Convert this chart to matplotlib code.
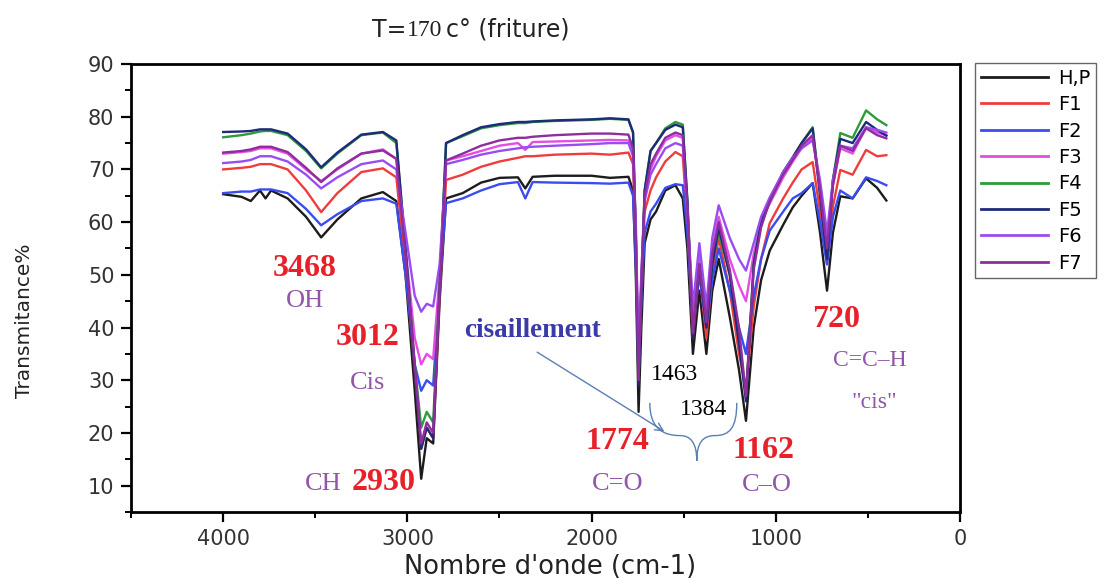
import numpy as np
import matplotlib.pyplot as plt
from matplotlib.path import Path
from matplotlib.patches import PathPatch
from matplotlib.ticker import MultipleLocator

# wavenumbers (cm-1)
wn = [4000, 3900, 3850, 3800, 3770, 3740, 3650, 3550, 3468, 3380,
      3250, 3133, 3060, 3010, 2960, 2925, 2895, 2860, 2825, 2790,
      2700, 2600, 2500, 2400, 2360, 2320, 2200, 2000, 1900, 1800,
      1775, 1760, 1745, 1730, 1712, 1680, 1650, 1600, 1545, 1505,
      1480, 1450, 1415, 1377, 1345, 1310, 1250, 1200, 1162, 1120,
      1080, 1033, 960, 908, 860, 800, 760, 722, 690, 650,
      583, 510, 450, 400]

hp = [65.3, 64.8, 64.0, 66.0, 64.5, 66.0, 64.5, 61.0, 57.1, 60.5,
      64.5, 65.7, 64.0, 50.0, 28.0, 11.3, 19.0, 18.0, 45.0, 64.5,
      65.5, 67.5, 68.4, 68.5, 66.4, 68.6, 68.8, 68.8, 68.4, 68.6,
      66.0, 50.0, 24.0, 40.0, 56.0, 60.5, 62.0, 66.0, 67.0, 64.5,
      55.0, 35.0, 47.0, 35.0, 47.0, 53.0, 42.0, 32.0, 22.3, 40.0,
      49.0, 54.6, 59.5, 62.8, 65.0, 67.4, 58.0, 47.0, 58.0, 64.9,
      64.5, 68.3, 66.5, 64.1]
f1 = [70.0, 70.3, 70.5, 71.0, 71.0, 71.0, 70.0, 66.0, 61.9, 65.5,
      69.5, 70.2, 68.5, 52.0, 32.0, 17.0, 21.0, 19.0, 46.0, 68.0,
      69.0, 70.5, 71.5, 72.2, 72.5, 72.5, 72.8, 73.0, 72.8, 73.2,
      71.0, 55.0, 32.0, 46.0, 62.0, 66.0, 68.5, 71.5, 73.3, 72.5,
      60.0, 38.0, 51.0, 38.0, 50.0, 57.0, 47.0, 35.0, 28.6, 44.0,
      53.0, 59.8, 64.5, 67.5, 70.0, 71.4, 62.0, 52.0, 63.0, 69.9,
      69.0, 73.7, 72.5, 72.7]
f2 = [65.5, 65.8, 65.8, 66.2, 66.2, 66.2, 65.5, 62.5, 59.4, 61.5,
      64.0, 64.5, 63.5, 50.0, 33.0, 28.0, 30.0, 29.0, 48.0, 63.6,
      64.5, 66.0, 67.2, 67.6, 64.5, 67.6, 67.5, 67.4, 67.3, 67.5,
      65.0, 52.0, 31.0, 45.0, 58.0, 62.0, 63.5, 66.5, 67.2, 67.0,
      58.0, 40.0, 50.0, 40.0, 49.0, 55.0, 47.0, 40.0, 35.0, 46.0,
      53.0, 58.4, 62.0, 64.5, 65.5, 67.4, 60.0, 52.0, 61.0, 66.0,
      64.5, 68.5, 67.8, 67.0]
f3 = [73.0, 73.3, 73.5, 74.0, 74.0, 74.0, 73.0, 70.0, 67.8, 70.0,
      73.0, 73.8, 72.0, 55.0, 38.0, 33.0, 35.0, 34.0, 50.0, 71.7,
      72.5, 73.5, 74.5, 75.0, 73.7, 75.2, 75.3, 75.5, 75.6, 75.5,
      73.0, 58.0, 34.0, 50.0, 65.0, 70.0, 72.5, 75.5, 76.5, 76.0,
      62.0, 42.0, 54.0, 42.0, 55.0, 61.0, 53.0, 48.0, 45.0, 54.0,
      60.0, 63.5, 68.5, 71.5, 74.0, 76.0, 67.0, 56.0, 67.0, 74.0,
      73.0, 78.0, 77.0, 76.5]
f4 = [76.1, 76.5, 76.8, 77.2, 77.3, 77.3, 76.5, 73.5, 70.2, 73.0,
      76.5, 77.0, 75.0, 55.0, 33.0, 21.0, 24.0, 22.0, 48.0, 75.0,
      76.3, 77.8, 78.4, 78.8, 78.8, 79.0, 79.2, 79.4, 79.6, 79.4,
      77.0, 58.0, 30.0, 48.0, 66.0, 73.5, 75.0, 77.8, 79.0, 78.5,
      64.0, 40.0, 52.0, 41.0, 52.0, 58.0, 50.0, 38.0, 27.0, 52.0,
      60.0, 64.0, 69.5, 72.3, 75.0, 78.0, 66.0, 54.0, 68.0, 76.9,
      76.0, 81.2, 79.5, 78.4]
f5 = [77.1, 77.2, 77.3, 77.6, 77.6, 77.6, 76.8, 73.8, 70.4, 73.2,
      76.6, 77.1, 75.5, 55.0, 32.0, 17.0, 21.0, 19.0, 47.0, 75.0,
      76.5, 78.0, 78.6, 79.0, 79.0, 79.1, 79.3, 79.5, 79.7, 79.5,
      77.0, 57.0, 29.0, 47.0, 66.0, 73.5, 75.0, 77.5, 78.5, 78.0,
      64.0, 38.0, 52.0, 40.0, 52.0, 59.0, 50.0, 37.0, 26.0, 52.0,
      60.0, 64.0, 69.5, 72.3, 75.0, 77.8, 65.0, 53.0, 68.0, 75.8,
      75.0, 79.0, 77.5, 76.4]
f6 = [71.2, 71.5, 71.8, 72.5, 72.5, 72.5, 71.5, 69.0, 66.4, 68.5,
      71.0, 71.7, 70.0, 58.0, 46.0, 43.0, 44.5, 44.0, 52.0, 71.0,
      71.8, 72.8, 73.5, 74.0, 74.2, 74.3, 74.5, 74.8, 75.0, 75.0,
      72.5, 60.0, 35.0, 50.0, 64.0, 69.0, 71.0, 74.0, 75.0, 74.5,
      62.0, 44.0, 56.0, 44.0, 57.0, 63.2, 57.0, 53.0, 50.8, 56.0,
      61.0, 64.7, 69.5, 72.3, 74.0, 75.5, 68.0, 58.0, 68.0, 74.5,
      74.0, 78.0, 77.5, 77.0]
f7 = [73.2, 73.5, 73.8, 74.3, 74.3, 74.3, 73.3, 70.3, 67.6, 70.2,
      73.0, 73.6, 72.0, 54.0, 33.0, 18.0, 22.0, 20.0, 47.0, 71.7,
      73.0, 74.5, 75.5, 76.0, 76.0, 76.2, 76.5, 76.8, 76.8, 76.6,
      74.0, 57.0, 30.0, 48.0, 65.0, 71.0, 73.0, 76.0, 77.0, 76.5,
      63.0, 39.0, 52.0, 41.0, 54.0, 60.0, 51.0, 40.0, 27.0, 51.0,
      59.0, 64.0, 69.0, 71.8, 74.5, 76.5, 66.0, 55.0, 67.0, 74.5,
      73.5, 77.8, 76.5, 75.9]

labels = ['H,P', 'F1', 'F2', 'F3', 'F4', 'F5', 'F6', 'F7']
series = [hp, f1, f2, f3, f4, f5, f6, f7]
colors = ['#1c1c1c', '#f03c3c', '#3a4cf0', '#e44ce4', '#2e9a3a', '#1e2a7a', '#9a4cf0', '#8e2e9e']

# peak labels: text, wavenumber, transmittance, colour, size, weight
RED, PURP, BLUE = '#e8202a', '#9256a8', '#3a3aa8'
notes = [
    ('3468', 3556, 51.2, RED, 23, 'bold'),
    ('OH', 3556, 45.1, PURP, 19, 'normal'),
    ('3012', 3214, 38.1, RED, 23, 'bold'),
    ('Cis', 3214, 29.5, PURP, 19, 'normal'),
    ('CH', 3455, 10.3, PURP, 19, 'normal'),
    ('2930', 3130, 10.5, RED, 23, 'bold'),
    ('cisaillement', 2319, 39.4, BLUE, 19.5, 'bold'),
    ('1463', 1548, 31.1, 'black', 17, 'normal'),
    ('1384', 1391, 24.4, 'black', 17, 'normal'),
    ('1774', 1858, 18.3, RED, 23, 'bold'),
    ('C=O', 1858, 10.3, PURP, 19, 'normal'),
    ('1162', 1065, 16.6, RED, 23, 'bold'),
    ('C\u2013O', 1049, 10.2, PURP, 19, 'normal'),
    ('720', 675, 41.5, RED, 23, 'bold'),
    ('C=C\u2013H', 490, 33.7, PURP, 17, 'normal'),
    ('"cis"', 463, 25.7, PURP, 17, 'normal'),
]

fig = plt.figure(figsize=(11.04, 5.82), dpi=100)
ax = fig.add_axes([0.1187, 0.1203, 0.7509, 0.7697])

for lab, y, c in zip(labels, series, colors):
    ax.plot(wn, y, color=c, lw=1.7, label=lab)

ax.set_xlim(4500, 0)
ax.set_ylim(5, 90)
ax.xaxis.set_major_locator(MultipleLocator(1000))
ax.xaxis.set_minor_locator(MultipleLocator(500))
ax.yaxis.set_major_locator(MultipleLocator(10))
ax.yaxis.set_minor_locator(MultipleLocator(5))
ax.tick_params(which='major', direction='out', length=7, width=1.6, labelsize=15,
               labelcolor='#333333', pad=5)
ax.tick_params(which='minor', direction='out', length=4, width=1.4)
for sp in ax.spines.values():
    sp.set_linewidth(2.0)

serif = ['Liberation Serif', 'DejaVu Serif']
for txt, x, y, c, fs, fw in notes:
    ax.text(x, y, txt, color=c, fontsize=fs, fontweight=fw, family=serif,
            ha='center', va='center')

# arrow from "cisaillement" and the brace under 1463/1384
arc = '#5a7fb5'
ax.annotate('', xy=(1592, 20.0), xytext=(2308, 35.6),
            arrowprops=dict(arrowstyle='->', color=arc, lw=1.0, mutation_scale=14))
verts = [(1684, 25.7), (1684, 20.5), (1600, 19.5), (1520, 19.5),
         (1460, 19.5), (1429, 18.0), (1429, 14.7),
         (1429, 18.0), (1400, 19.5), (1330, 19.5),
         (1250, 19.5), (1212, 21.0), (1212, 25.7)]
codes = [Path.MOVETO] + [Path.CURVE4] * 12
ax.add_patch(PathPatch(Path(verts, codes), fill=False, edgecolor=arc, lw=1.0))

leg = fig.legend(loc='upper left', bbox_to_anchor=(975 / 1104, 1 - 63 / 582),
                 bbox_transform=fig.transFigure, fontsize=14, handlelength=3.45,
                 handletextpad=0.5, labelspacing=0.38, borderpad=0.3,
                 borderaxespad=0, fancybox=False, framealpha=1)
leg.get_frame().set_edgecolor('#666666')
leg.get_frame().set_linewidth(1.0)
for line in leg.get_lines():
    line.set_linewidth(2.0)

fig.text(25 / 1104, 1 - 321 / 582, 'Transmitance%', rotation=90, fontsize=14.5,
         ha='center', va='center', color='#222222')
fig.text(550 / 1104, 1 - 567 / 582, "Nombre d'onde (cm-1)", fontsize=18.5,
         ha='center', va='center', color='#222222')

ty = 1 - 30 / 582
fig.text(406 / 1104, ty, 'T=', fontsize=17, ha='right', va='center', color='#222222')
fig.text(425 / 1104, ty, '170', fontsize=17, family=serif, ha='center', va='center', color='#222222')
fig.text(446 / 1104, ty, 'c\u00b0 (friture)', fontsize=17, ha='left', va='center', color='#222222')

fig.savefig('out.png', dpi=100)
